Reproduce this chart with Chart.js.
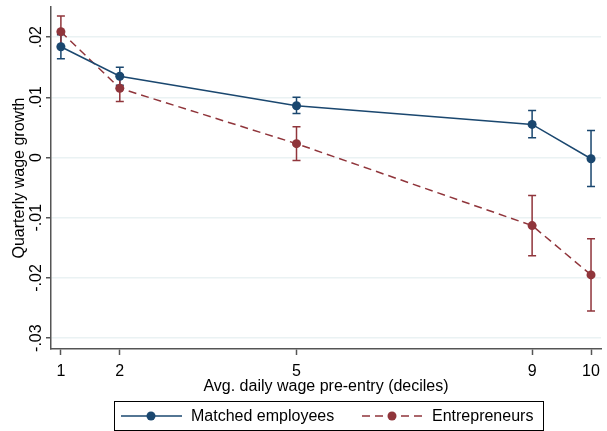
<!DOCTYPE html>
<html>
<head>
<meta charset="utf-8">
<script src="https://cdn.jsdelivr.net/npm/chart.js@4/dist/chart.umd.min.js"></script>
<style>
  html, body { margin: 0; padding: 0; background: #fff; }
  #wrap { width: 607px; height: 431px; position: relative; }
</style>
</head>
<body>
<div id="wrap"><canvas id="chart"></canvas></div>
<script>
// deciles on x axis
const deciles = [1, 2, 5, 9, 10];
const xTicks = [1, 2, 5, 9, 10];
const yTicks = [-0.03, -0.02, -0.01, 0, 0.01, 0.02];

// matched employees: point estimate + 95% CI
const empMean = [0.0184, 0.0135, 0.0086, 0.0055, -0.0002];
const empLow  = [0.0164, 0.0120, 0.0073, 0.0033, -0.0048];
const empHigh = [0.0204, 0.0150, 0.0100, 0.0078, 0.0045];

// entrepreneurs
const entMean = [0.0209, 0.0115, 0.0023, -0.0113, -0.0195];
const entLow  = [0.0183, 0.0093, -0.0005, -0.0163, -0.0255];
const entHigh = [0.0235, 0.0137, 0.0051, -0.0063, -0.0135];

const BLUE = '#1a476f';
const RED = '#90353b';
const FONT = "'Liberation Sans', Arial, sans-serif";
const FS = 16;

function fmtTick(v) {
  if (Math.abs(v) < 1e-9) return '0';
  let s = v.toFixed(2);
  return s.replace('0.', '.');
}

// error bars from the scales, under the markers
const errorBars = {
  id: 'errorBars',
  beforeDatasetsDraw(chart) {
    const ctx = chart.ctx;
    const xs = chart.scales.x, ys = chart.scales.y;
    const sets = [[empLow, empHigh, BLUE], [entLow, entHigh, RED]];
    ctx.save();
    sets.forEach(([lo, hi, col]) => {
      ctx.strokeStyle = col;
      ctx.lineWidth = 1.5;
      deciles.forEach((d, i) => {
        const x = xs.getPixelForValue(d);
        const y1 = ys.getPixelForValue(lo[i]);
        const y2 = ys.getPixelForValue(hi[i]);
        ctx.beginPath();
        ctx.moveTo(x, y1); ctx.lineTo(x, y2);
        ctx.moveTo(x - 4, y1); ctx.lineTo(x + 4, y1);
        ctx.moveTo(x - 4, y2); ctx.lineTo(x + 4, y2);
        ctx.stroke();
      });
    });
    ctx.restore();
  }
};

// vertical y tick labels (Stata style) + legend box
const extras = {
  id: 'extras',
  afterDraw(chart) {
    const ctx = chart.ctx;
    const ys = chart.scales.y;
    ctx.save();
    ctx.fillStyle = '#000';
    ctx.font = FS + 'px ' + FONT;
    ctx.textAlign = 'center';
    ctx.textBaseline = 'middle';
    yTicks.forEach(v => {
      const y = ys.getPixelForValue(v);
      ctx.save();
      ctx.translate(37, y);
      ctx.rotate(-Math.PI / 2);
      ctx.fillText(fmtTick(v), 0, 0);
      ctx.restore();
    });

    // legend
    ctx.strokeStyle = '#000';
    ctx.lineWidth = 1;
    ctx.strokeRect(114.5, 401.5, 429, 29);
    const ly = 416;
    const items = [
      { x: 121, label: 'Matched employees', col: BLUE, dash: [] },
      { x: 362, label: 'Entrepreneurs', col: RED, dash: [8, 5] }
    ];
    items.forEach(it => {
      ctx.strokeStyle = it.col;
      ctx.lineWidth = 1.5;
      ctx.setLineDash(it.dash);
      ctx.beginPath();
      ctx.moveTo(it.x, ly); ctx.lineTo(it.x + 61, ly);
      ctx.stroke();
      ctx.setLineDash([]);
      ctx.fillStyle = it.col;
      ctx.beginPath();
      ctx.arc(it.x + 30, ly, 4.5, 0, Math.PI * 2);
      ctx.fill();
      ctx.fillStyle = '#000';
      ctx.textAlign = 'left';
      ctx.fillText(it.label, it.x + 70, ly + 1);
    });
    ctx.restore();
  }
};

new Chart(document.getElementById('chart'), {
  type: 'line',
  data: {
    datasets: [
      {
        label: 'Matched employees',
        data: deciles.map((d, i) => ({ x: d, y: empMean[i] })),
        borderColor: BLUE,
        backgroundColor: BLUE,
        borderWidth: 1.5,
        pointRadius: 4.5,
        pointBorderWidth: 0,
        tension: 0
      },
      {
        label: 'Entrepreneurs',
        data: deciles.map((d, i) => ({ x: d, y: entMean[i] })),
        borderColor: RED,
        backgroundColor: RED,
        borderWidth: 1.5,
        borderDash: [8, 5],
        pointRadius: 4.5,
        pointBorderWidth: 0,
        tension: 0
      }
    ]
  },
  options: {
    responsive: true,
    maintainAspectRatio: false,
    animation: false,
    layout: { padding: { top: 7, right: 0, bottom: 35, left: 0 } },
    plugins: {
      legend: { display: false },
      tooltip: { enabled: false }
    },
    scales: {
      x: {
        type: 'linear',
        min: 0.832,
        max: 10.17,
        afterBuildTicks: s => { s.ticks = xTicks.map(v => ({ value: v })); },
        afterFit: s => { s.height = 47; },
        border: { color: '#555', width: 1.5 },
        grid: { drawOnChartArea: false, tickLength: 6, tickColor: '#555', tickWidth: 1.5 },
        ticks: {
          color: '#000', font: { family: FONT, size: FS }, padding: 7,
          maxRotation: 0, autoSkip: false,
          callback: v => String(v)
        },
        title: {
          display: true,
          text: 'Avg. daily wage pre-entry (deciles)',
          color: '#000',
          font: { family: FONT, size: FS },
          padding: { top: 0, bottom: 0 }
        }
      },
      y: {
        type: 'linear',
        min: -0.0318,
        max: 0.025,
        afterBuildTicks: s => { s.ticks = yTicks.map(v => ({ value: v })); },
        afterFit: s => { s.width = 51; },
        border: { color: '#555', width: 1.5 },
        grid: { color: '#eaf2f3', lineWidth: 1.5, tickLength: 5, tickColor: '#555', tickWidth: 1.5 },
        ticks: { display: false },
        title: {
          display: true,
          text: 'Quarterly wage growth',
          color: '#000',
          font: { family: FONT, size: FS },
          padding: { top: 10, bottom: 0 }
        }
      }
    }
  },
  plugins: [errorBars, extras]
});
</script>
</body>
</html>
